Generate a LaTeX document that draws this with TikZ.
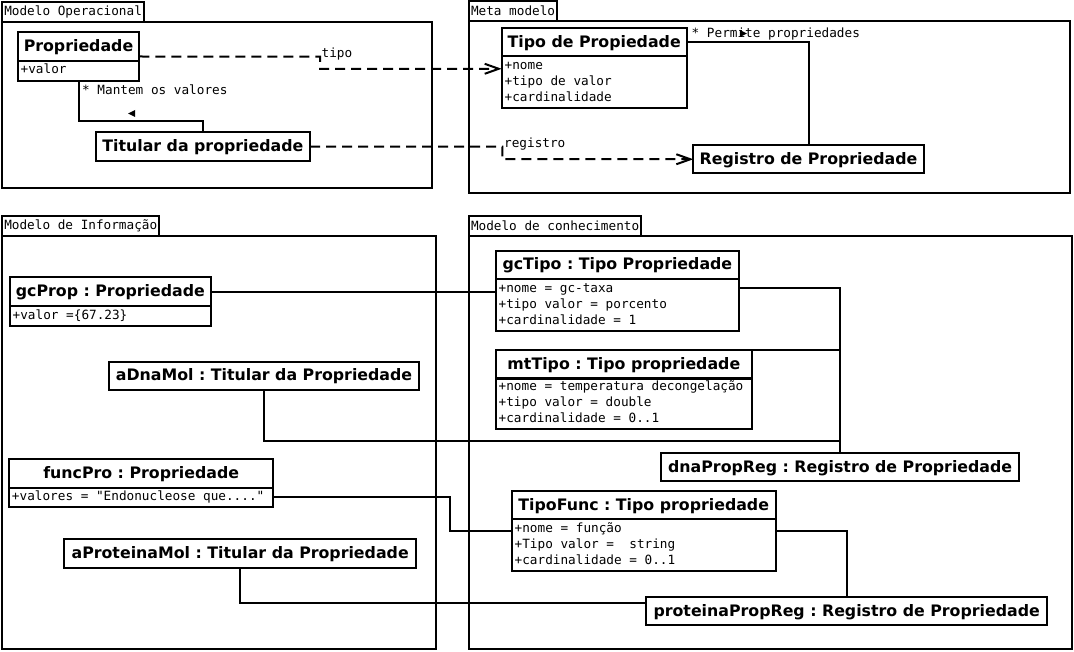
\documentclass[tikz,border=0pt]{standalone}
\usepackage{fontspec}
\setmonofont{DejaVu Sans Mono}
\newfontfamily\umlsans{DejaVu Sans}
\usetikzlibrary{arrows.meta,positioning,shapes.geometric}

\newcommand\umltitlefont{\umlsans\bfseries\fontsize{15.8}{19}\selectfont\frenchspacing}
\newcommand\umlattrfont{\ttfamily\fontsize{12.7}{16}\selectfont\frenchspacing}

\tikzset{
  umlclass/.style={
    draw, line width=2pt,
    inner sep=0pt, outer sep=0pt,
    minimum height=28.5pt,
    text height=11.6pt, text depth=1.5pt,
    font=\umltitlefont},
  umlattr/.style={
    draw, line width=2pt,
    inner xsep=3pt, inner ysep=0pt, outer sep=0pt,
    text width=#1-6pt,
    font=\umlattrfont,
    execute at begin node={\spaceskip=\fontdimen2\font\xspaceskip=\fontdimen2\font\strut},
    execute at end node=\strut},
  pkgbody/.style={draw, line width=2pt, inner sep=0pt, outer sep=0pt, anchor=north west},
  pkgtab/.style={draw, line width=2pt, inner xsep=2pt, inner ysep=0pt, outer sep=0pt,
    minimum height=20pt, font=\umlattrfont},
  assoc/.style={line width=2pt},
  dep/.style={line width=2pt, dash pattern=on 10pt off 6pt,
    -{Straight Barb[length=14pt,width=10pt]}},
  lbl/.style={inner sep=0pt, anchor=base west, font=\umlattrfont},
  namemark/.style={isosceles triangle, isosceles triangle stretches, fill,
    inner sep=0pt, minimum height=7pt, minimum width=7pt},
}

\begin{document}
\begin{tikzpicture}[x=1pt, y=-1pt]
    \useasboundingbox (0,0) rectangle (1074,652);

    % packages
    \node[pkgbody, minimum width=430pt, minimum height=166.6pt] (operacional) at (2.3,21.7) {};
    \node[pkgtab, above right=0pt of operacional.north west] (operacionaltab) {Modelo Operacional};
    \node[pkgbody, minimum width=601pt, minimum height=172.3pt] (meta) at (469,20.7) {};
    \node[pkgtab, above right=0pt of meta.north west] (metatab) {Meta modelo};
    \node[pkgbody, minimum width=433.4pt, minimum height=413.3pt] (informacao) at (2.3,236) {};
    \node[pkgtab, above right=0pt of informacao.north west] (informacaotab) {Modelo de Informação};
    \node[pkgbody, minimum width=603.3pt, minimum height=413.3pt] (conhecimento) at (469,236) {};
    \node[pkgtab, above right=0pt of conhecimento.north west] (conhecimentotab) {Modelo de conhecimento};

    % Modelo Operacional
    \node[umlclass, minimum width=121.6pt, anchor=north west] (prop) at (17.7,32.3) {Propriedade};
    \node[umlattr=121.6pt, minimum height=20pt, below=0pt of prop] (propattr) {+valor};
    \node[umlclass, minimum width=214.3pt, anchor=north west] (titular) at (95.7,132.3) {Titular da propriedade};

    % Meta modelo
    \node[umlclass, minimum width=185pt, anchor=north west] (tipoprop) at (501.7,28) {Tipo de Propiedade};
    \node[umlattr=185pt, minimum height=51.7pt, below=0pt of tipoprop] (tipopropattr)
        {+nome\\+tipo de valor\\+cardinalidade};
    \node[umlclass, minimum width=230.4pt, anchor=north west] (registro) at (693.3,145) {Registro de Propriedade};

    % Modelo de Informacao
    \node[umlclass, minimum width=201.3pt, anchor=north west] (gcprop) at (9.7,277.3) {gcProp : Propriedade};
    \node[umlattr=201.3pt, minimum height=20.7pt, below=0pt of gcprop] (gcpropattr) {+valor =\{67.23\}};
    \node[umlclass, minimum width=310pt, anchor=north west] (adnamol) at (109,361.7) {aDnaMol : Titular da Propriedade};
    \node[umlclass, minimum width=264.3pt, anchor=north west] (funcpro) at (9,459) {funcPro : Propriedade};
    \node[umlattr=264.3pt, minimum height=19.4pt, below=0pt of funcpro] (funcproattr)
        {\mbox{+valores = "Endonucleose que...."}};
    \node[umlclass, minimum width=351.7pt, anchor=north west] (aproteinamol) at (64.3,539) {aProteinaMol : Titular da Propriedade};

    % Modelo de conhecimento
    \node[umlclass, minimum width=243.3pt, anchor=north west] (gctipo) at (495.7,250.7) {gcTipo : Tipo Propriedade};
    \node[umlattr=243.3pt, minimum height=52pt, below=0pt of gctipo] (gctipoattr)
        {+nome = gc-taxa\\+tipo valor = porcento\\+cardinalidade = 1};
    \node[umlclass, minimum width=256.3pt, anchor=north west] (mttipo) at (495.7,350) {mtTipo : Tipo propriedade};
    \node[umlattr=256.3pt, minimum height=50.3pt, below=0pt of mttipo] (mttipoattr)
        {\mbox{+nome = temperatura decongelação}\\+tipo valor = double\\+cardinalidade = 0..1};
    \node[umlclass, minimum width=358.3pt, anchor=north west] (dnapropreg) at (661,452.7) {dnaPropReg : Registro de Propriedade};
    \node[umlclass, minimum width=264pt, anchor=north west] (tipofunc) at (511.7,490.7) {TipoFunc : Tipo propriedade};
    \node[umlattr=264pt, minimum height=51.7pt, below=0pt of tipofunc] (tipofuncattr)
        {+nome = função\\+Tipo valor = \ string\\+cardinalidade = 0..1};
    \node[umlclass, minimum width=401.3pt, anchor=north west] (proteinapropreg) at (646,596.7) {proteinaPropReg : Registro de Propriedade};

    % dependencies
    \coordinate (tipobend) at (320,56.7);
    \coordinate (regbend) at (502.3,146.6);
    \draw[dep] ([yshift=4.3pt]prop.south east) -- (tipobend)
        |- ([yshift=-12.3pt]tipopropattr.north west);
    \node[lbl] (tipolbl) at (321.5,58) {tipo};
    \draw[dep] (titular.east) -- (regbend) |- (registro.west);
    \node[lbl] (registrolbl) at (504,147.5) {registro};

    % associations
    \draw[assoc] (propattr.south) -- ++(0,40) -| (titular.north);
    \node[lbl] (mantemlbl) at (82,94.5) {* Mantem os valores};
    \node[namemark, shape border rotate=180] (mantemmark) at (133,113.5) {};
    \draw[assoc] (tipoprop.east) -| (registro.north);
    \node[lbl] (permitelbl) at (691.5,37.5) {* Permite propriedades};
    \node[namemark] (permitemark) at (742,33.5) {};

    % links
    \coordinate (dnajoin) at ([yshift=12pt]dnapropreg.north);
    \draw[assoc] (gcprop.east) -- (gcprop.east -| gctipoattr.west);
    \draw[assoc] ([yshift=-9.3pt]gctipoattr.north east) -| (dnapropreg.north);
    \draw[assoc] (mttipo.north east) -- (mttipo.north east -| dnapropreg.north);
    \draw[assoc] (adnamol.south) |- (dnajoin);
    \draw[assoc] (funcproattr.east) -- ++(176.7,0) |- ([yshift=-11.7pt]tipofuncattr.north west);
    \draw[assoc] ([yshift=-11.7pt]tipofuncattr.north east) -| (proteinapropreg.north);
    \draw[assoc] (aproteinamol.south) |- ([yshift=-6.6pt]proteinapropreg.north west);

\end{tikzpicture}
\end{document}
